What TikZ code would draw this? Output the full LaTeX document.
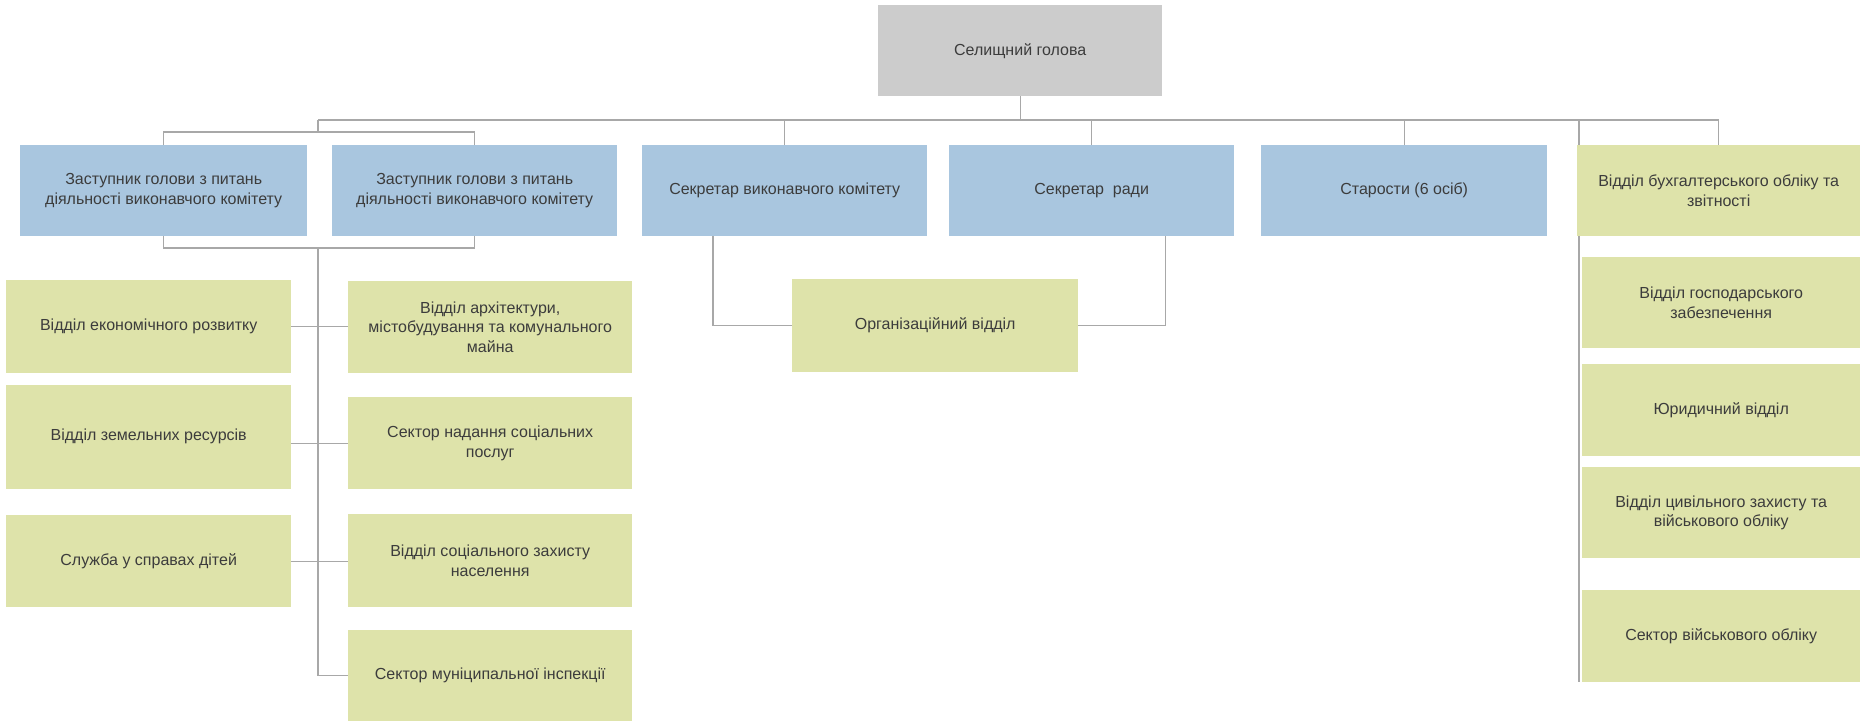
\documentclass[tikz,border=0pt]{standalone}
\usepackage{fontspec}
\setmainfont{Liberation Sans}
\usetikzlibrary{calc,backgrounds}
\definecolor{bluebox}{HTML}{A9C6DF}
\definecolor{greenbox}{HTML}{DEE3AA}
\definecolor{graybox}{HTML}{CCCCCC}
\definecolor{linec}{HTML}{A8A8A8}
\definecolor{txtc}{HTML}{3C3C3C}
\tikzset{
  box/.style={draw=none, inner sep=0pt, align=center, text=txtc, anchor=north west,
    font=\fontsize{16bp}{19.5bp}\selectfont},
  bluenode/.style={box, fill=bluebox},
  greennode/.style={box, fill=greenbox},
  graynode/.style={box, fill=graybox},
  sz/.style 2 args={minimum width=#1bp, minimum height=#2bp},
  conn/.style={draw=linec, line width=1.3bp}
}
\begin{document}
\begin{tikzpicture}[x={(1bp,0)}, y={(0,-1bp)}]
\useasboundingbox (0,0) rectangle (1860,721);
% head
\node[graynode, sz={284}{91}] (head) at (878,5) {Селищний голова};
% first row
\node[bluenode, sz={287}{91}] (b1) at (20,145) {Заступник голови з питань\\діяльності виконавчого комітету};
\node[bluenode, sz={285}{91}] (b2) at (332,145) {Заступник голови з питань\\діяльності виконавчого комітету};
\node[bluenode, sz={285}{91}] (b3) at (642,145) {Секретар виконавчого комітету};
\node[bluenode, sz={285}{91}] (b4) at (949,145) {Секретар~ ради};
\node[bluenode, sz={286}{91}] (b5) at (1261,145) {Старости (6 осіб)};
\node[greennode, sz={283}{91}] (b6) at (1577,145) {Відділ бухгалтерського обліку та\\звітності};
% lower left groups
\node[greennode, sz={285}{93}] (l1) at (6,280) {Відділ економічного розвитку};
\node[greennode, sz={285}{104}] (l2) at (6,385) {\raisebox{5bp}{Відділ земельних ресурсів}};
\node[greennode, sz={285}{92}] (l3) at (6,515) {Служба у справах дітей};
\node[greennode, sz={284}{92}] (r1) at (348,281) {Відділ архітектури,\\містобудування та комунального\\майна};
\node[greennode, sz={284}{92}] (r2) at (348,397) {Сектор надання соціальних\\послуг};
\node[greennode, sz={284}{93}] (r3) at (348,514) {Відділ соціального захисту\\населення};
\node[greennode, sz={284}{91}] (r4) at (348,630) {Сектор муніципальної інспекції};
% organisational
\node[greennode, sz={286}{93}] (org) at (792,279) {Організаційний відділ};
% right column
\node[greennode, sz={278}{91}] (c1) at (1582,257) {Відділ господарського\\забезпечення};
\node[greennode, sz={278}{92}] (c2) at (1582,364) {Юридичний відділ};
\node[greennode, sz={278}{91}] (c3) at (1582,467) {Відділ цивільного захисту та\\військового обліку};
\node[greennode, sz={278}{92}] (c4) at (1582,590) {Сектор військового обліку};
% connectors
\coordinate (busL) at (318,120);
\coordinate (busR) at (b6.north |- busL);
\coordinate (tb) at (318,132);
\coordinate (bb) at (318,248);
\coordinate (rc) at (1579,120);
\coordinate (d3) at ($(b3.south west)+(71,0)$);
\coordinate (d4) at ($(b4.south east)+(-69,0)$);
\begin{scope}[on background layer]
\draw[conn] (busL) -- (busR);
\draw[conn] (head.south) -- (head.south |- busL);
\draw[conn] (b3.north) -- (b3.north |- busL);
\draw[conn] (b4.north) -- (b4.north |- busL);
\draw[conn] (b5.north) -- (b5.north |- busL);
\draw[conn] (b6.north) -- (busR);
\draw[conn] (busL) -- (tb);
\draw[conn] (b1.north) -- (b1.north |- tb) -- (b2.north |- tb) -- (b2.north);
\draw[conn] (b1.south) -- (b1.south |- bb) -- (b2.south |- bb) -- (b2.south);
\draw[conn] (bb) -- (bb |- r4.west) -- (r4.west);
\draw[conn] (l1.east) -- (r1.west |- l1.east);
\draw[conn] (l2.east |- r2.west) -- (r2.west);
\draw[conn] (l3.east) -- (r3.west |- l3.east);
\draw[conn] (d3) |- (org.west);
\draw[conn] (d4) |- (org.east);
\draw[conn] (rc) -- (rc |- c4.south);
\end{scope}
\end{tikzpicture}
\end{document}
